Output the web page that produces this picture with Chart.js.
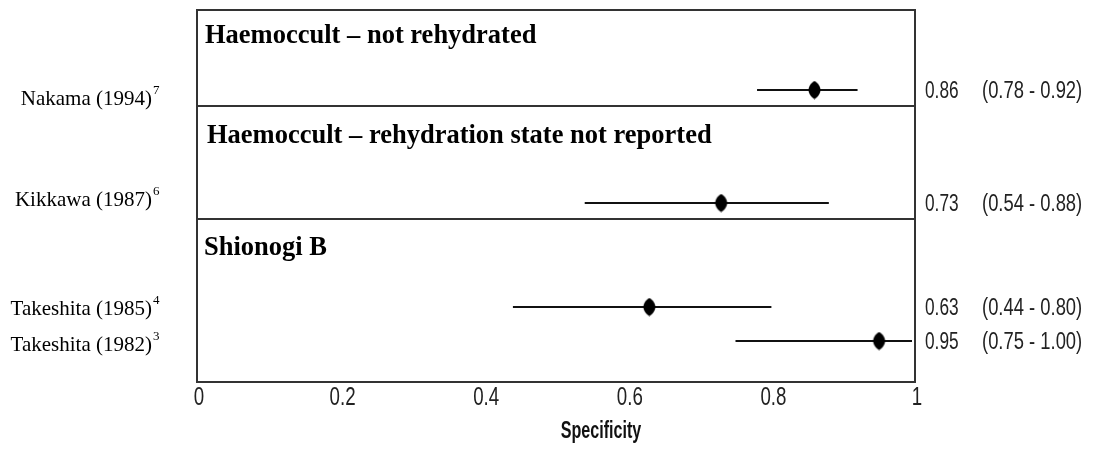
<!DOCTYPE html>
<html>
<head>
<meta charset="utf-8">
<script src="https://cdn.jsdelivr.net/npm/chart.js@4/dist/chart.umd.min.js"></script>
<style>
  html, body { margin: 0; padding: 0; background: #ffffff; }
  #wrap { width: 1093px; height: 450px; }
</style>
</head>
<body>
<div id="wrap"><canvas id="forest" width="1093" height="450"></canvas></div>
<script>
// ---- data ----
const studies   = ['Nakama (1994)', 'Kikkawa (1987)', 'Takeshita (1985)', 'Takeshita (1982)'];
const refs      = ['7', '6', '4', '3'];
const estimates = [0.86, 0.73, 0.63, 0.95];
const lower     = [0.78, 0.54, 0.44, 0.75];
const upper     = [0.92, 0.88, 0.80, 1.00];
const groups    = ['Haemoccult \u2013 not rehydrated',
                   'Haemoccult \u2013 rehydration state not reported',
                   'Shionogi B'];
const xTicks    = [0, 0.2, 0.4, 0.6, 0.8, 1];
const xTitle    = 'Specificity';

// ---- layout (vertical units of the hidden y scale, 0 = top of the box) ----
const ROW_Y       = [80, 193, 297, 331];
const LABEL_NUDGE = [9, -3, 2, 4];
const DIVIDER_Y   = [96, 209];
const HEADER_Y    = [33, 133, 245];
const HEADER_X    = [8, 10, 7];

const SANS  = '"Liberation Sans", Arial, sans-serif';
const SERIF = '"Liberation Serif", "Times New Roman", serif';
const INK   = '#111111';

// condensed text: draw with a horizontal squeeze
function narrowText(ctx, text, x, y, size, squeeze, align, weight) {
  ctx.save();
  ctx.font = (weight ? weight + ' ' : '') + size + 'px ' + SANS;
  ctx.textAlign = align;
  ctx.textBaseline = 'middle';
  ctx.translate(x, y);
  ctx.scale(squeeze, 1);
  ctx.fillText(text, 0, 0);
  ctx.restore();
}

// rounded diamond marker
function makeMarker() {
  const c = document.createElement('canvas');
  c.width = 15; c.height = 19;
  const g = c.getContext('2d');
  g.fillStyle = '#000000';
  g.beginPath();
  g.moveTo(7.5, 0.5);
  g.bezierCurveTo(11, 2.5, 13.5, 6, 13.5, 9.5);
  g.bezierCurveTo(13.5, 13, 11, 16.5, 7.5, 18.5);
  g.bezierCurveTo(4, 16.5, 1.5, 13, 1.5, 9.5);
  g.bezierCurveTo(1.5, 6, 4, 2.5, 7.5, 0.5);
  g.fill();
  return c;
}

const forestPlugin = {
  id: 'forest',
  beforeDatasetsDraw(chart) {
    const { ctx, chartArea: a, scales: { x, y } } = chart;
    ctx.save();
    // confidence intervals
    ctx.strokeStyle = INK;
    ctx.lineWidth = 2;
    for (let i = 0; i < studies.length; i++) {
      const py = Math.round(y.getPixelForValue(ROW_Y[i]));
      ctx.beginPath();
      ctx.moveTo(x.getPixelForValue(lower[i]), py);
      ctx.lineTo(Math.min(x.getPixelForValue(upper[i]), a.right - 3), py);
      ctx.stroke();
    }
    ctx.restore();
  },
  afterDraw(chart) {
    const { ctx, chartArea: a, scales: { x, y } } = chart;
    ctx.save();
    // frame and group dividers
    ctx.strokeStyle = '#333333';
    ctx.lineWidth = 2;
    ctx.strokeRect(a.left, a.top, a.right - a.left, a.bottom - a.top);
    DIVIDER_Y.forEach(v => {
      const py = Math.round(y.getPixelForValue(v));
      ctx.beginPath();
      ctx.moveTo(a.left, py);
      ctx.lineTo(a.right, py);
      ctx.stroke();
    });

    // group headers
    ctx.fillStyle = '#000000';
    ctx.font = 'bold 26.5px ' + SERIF;
    ctx.textAlign = 'left';
    ctx.textBaseline = 'alphabetic';
    groups.forEach((g, i) => {
      ctx.fillText(g, a.left + HEADER_X[i], y.getPixelForValue(HEADER_Y[i]));
    });

    // study labels with reference superscripts
    for (let i = 0; i < studies.length; i++) {
      const cy = y.getPixelForValue(ROW_Y[i]) + LABEL_NUDGE[i];
      ctx.fillStyle = '#000000';
      ctx.font = '21px ' + SERIF;
      ctx.textAlign = 'right';
      ctx.textBaseline = 'middle';
      const right = 152;
      ctx.fillText(studies[i], right, cy);
      ctx.font = '13px ' + SERIF;
      ctx.textAlign = 'left';
      ctx.fillText(refs[i], right + 1, cy - 8);
    }

    // estimate and interval text
    ctx.fillStyle = '#222222';
    for (let i = 0; i < studies.length; i++) {
      const cy = y.getPixelForValue(ROW_Y[i]) + 2;
      narrowText(ctx, estimates[i].toFixed(2), a.right + 10, cy, 23, 0.75, 'left');
      narrowText(ctx, '(' + lower[i].toFixed(2) + ' - ' + upper[i].toFixed(2) + ')',
                 a.right + 67, cy, 23, 0.8, 'left');
    }

    // axis tick labels and title
    ctx.fillStyle = '#222222';
    x.ticks.forEach(t => {
      narrowText(ctx, String(t.value), x.getPixelForValue(t.value) + 2, a.bottom + 16, 26, 0.72, 'center');
    });
    ctx.fillStyle = '#111111';
    narrowText(ctx, xTitle, (a.left + a.right) / 2 + 45, a.bottom + 50, 23, 0.7, 'center', 'bold');
    ctx.restore();
  }
};

new Chart(document.getElementById('forest'), {
  type: 'scatter',
  data: {
    datasets: [{
      data: estimates.map((v, i) => ({ x: v, y: ROW_Y[i] })),
      pointStyle: makeMarker(),
      pointRadius: 9,
      pointHoverRadius: 9,
      showLine: false
    }]
  },
  options: {
    responsive: false,
    animation: false,
    devicePixelRatio: 1,
    layout: { padding: { left: 197, right: 178, top: 10, bottom: 0 } },
    plugins: { legend: { display: false }, tooltip: { enabled: false } },
    scales: {
      x: {
        type: 'linear',
        min: 0,
        max: 1,
        afterBuildTicks: s => { s.ticks = xTicks.map(v => ({ value: v })); },
        afterFit: s => { s.height = 68; },
        grid: { display: false, drawTicks: false, tickLength: 0 },
        border: { display: false },
        ticks: { display: false }
      },
      y: { type: 'linear', display: false, reverse: true, min: 0, max: 372 }
    }
  },
  plugins: [forestPlugin]
});
</script>
</body>
</html>
